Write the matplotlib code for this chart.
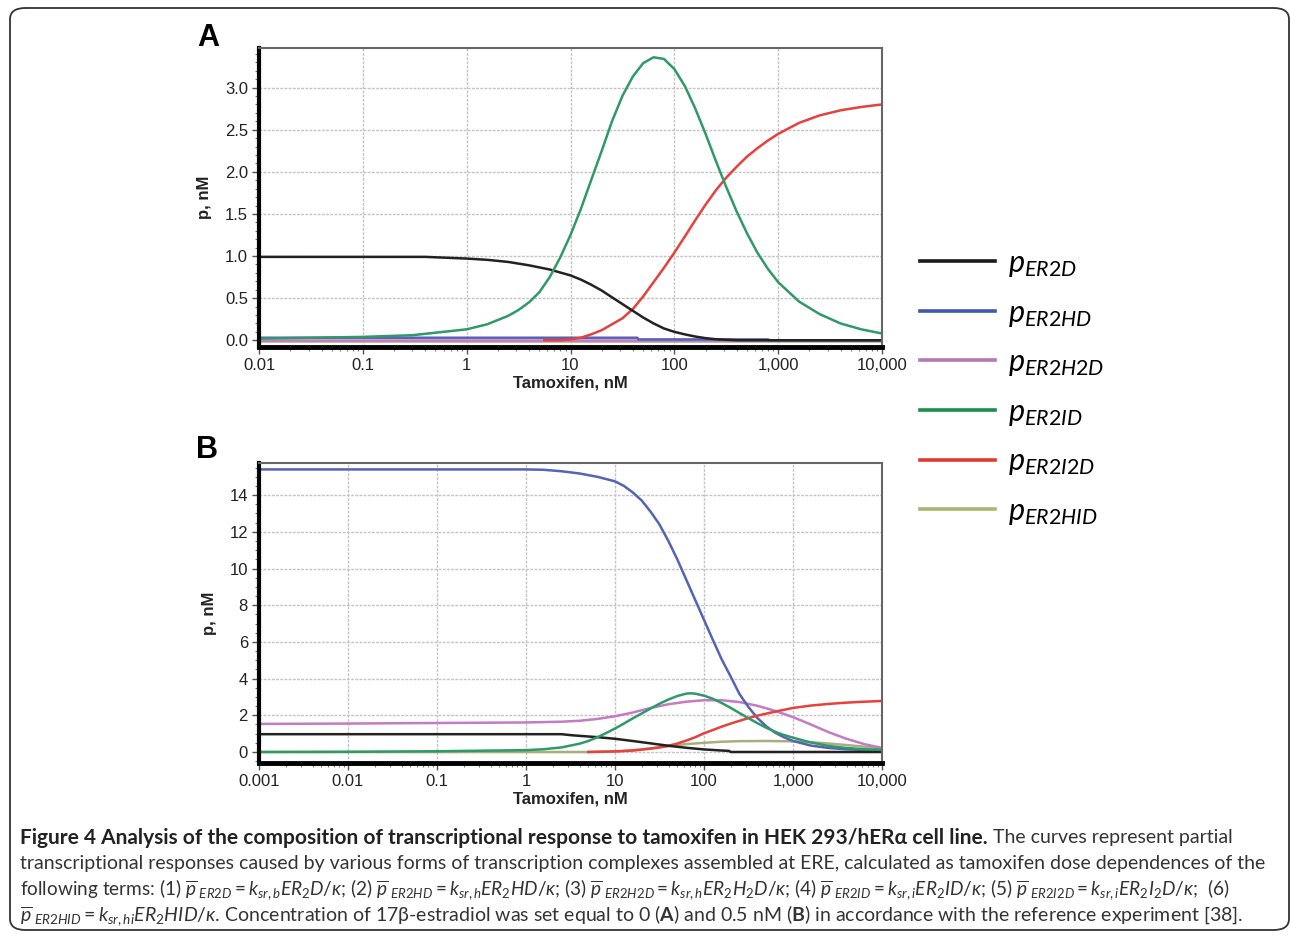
import numpy as np
import matplotlib.pyplot as plt
from matplotlib.lines import Line2D
from matplotlib.patches import FancyBboxPatch
from matplotlib.ticker import FixedLocator, LogLocator, MultipleLocator, NullFormatter

plt.rcParams['mathtext.fontset'] = 'custom'
plt.rcParams['mathtext.rm'] = 'Lato'
plt.rcParams['mathtext.it'] = 'Lato:italic'
plt.rcParams['mathtext.bf'] = 'Lato:bold'
plt.rcParams['mathtext.sf'] = 'Lato'

narrow = ['Liberation Sans Narrow', 'Liberation Sans', 'DejaVu Sans']
capfont = ['Lato', 'DejaVu Sans']

# ---- panel A: estradiol 0 nM (tamoxifen nM, p nM) ----
a_er2d_x = [0.01, 0.4, 1, 1.58, 2.51, 3.98, 6.31, 10, 12.6, 15.8, 20, 25.1, 31.6,
            39.8, 50.1, 63.1, 79.4, 100, 126, 158, 200, 251, 398, 10000]
a_er2d_y = [0.99, 0.99, 0.97, 0.955, 0.93, 0.89, 0.84, 0.77, 0.72, 0.66, 0.59, 0.51,
            0.43, 0.35, 0.27, 0.20, 0.14, 0.10, 0.07, 0.045, 0.025, 0.012, 0.0, 0.0]
a_er2hd_x = [0.01, 44, 45, 800, 810, 10000]
a_er2hd_y = [0.03, 0.03, 0.01, 0.01, 0.0, 0.0]
a_er2h2d_x = [0.01, 10000]
a_er2h2d_y = [0.0, 0.0]
a_er2id_x = [0.01, 0.1, 0.3, 1, 1.58, 2.51, 3.16, 3.98, 5.01, 6.31, 7.94, 10, 12.6,
             15.8, 20, 25.1, 31.6, 39.8, 50.1, 63.1, 79.4, 100, 126, 158, 200, 251,
             316, 398, 501, 631, 794, 1000, 1585, 2512, 3981, 6310, 10000]
a_er2id_y = [0.02, 0.04, 0.06, 0.13, 0.19, 0.29, 0.36, 0.45, 0.57, 0.75, 0.98, 1.25,
             1.56, 1.90, 2.25, 2.60, 2.90, 3.13, 3.29, 3.36, 3.34, 3.22, 3.02, 2.76,
             2.45, 2.13, 1.82, 1.53, 1.27, 1.04, 0.85, 0.69, 0.46, 0.31, 0.20, 0.13,
             0.08]
a_er2i2d_x = [5.6, 7.94, 10, 12.6, 15.8, 20, 25.1, 31.6, 39.8, 50.1, 63.1, 79.4, 100,
              126, 158, 200, 251, 316, 398, 501, 631, 794, 1000, 1585, 2512, 3981,
              6310, 10000]
a_er2i2d_y = [0.0, 0.0, 0.01, 0.03, 0.07, 0.12, 0.19, 0.26, 0.37, 0.52, 0.69, 0.86,
              1.04, 1.23, 1.42, 1.61, 1.78, 1.93, 2.06, 2.18, 2.28, 2.37, 2.45, 2.58,
              2.67, 2.73, 2.77, 2.80]
a_er2hid_x = [0.01, 10000]
a_er2hid_y = [-0.01, -0.01]

# ---- panel B: estradiol 0.5 nM ----
b_er2d_x = [0.001, 2.51, 3.16, 3.98, 6.31, 10, 15.8, 25.1, 39.8, 63.1, 100, 158, 191,
            200, 10000]
b_er2d_y = [0.97, 0.97, 0.92, 0.88, 0.81, 0.72, 0.60, 0.47, 0.34, 0.23, 0.14, 0.08,
            0.06, 0.0, 0.0]
b_er2hd_x = [0.001, 1, 1.58, 2.51, 3.98, 6.31, 10, 12.6, 15.8, 20, 25.1, 31.6, 39.8,
             50.1, 63.1, 79.4, 100, 126, 158, 200, 251, 316, 398, 501, 631, 794, 1000,
             1585, 2512, 3981, 6310, 10000]
b_er2hd_y = [15.4, 15.4, 15.38, 15.3, 15.18, 15.0, 14.75, 14.5, 14.15, 13.7, 13.1,
             12.4, 11.5, 10.5, 9.4, 8.3, 7.2, 6.1, 5.05, 4.1, 3.15, 2.45, 1.85, 1.4,
             1.05, 0.80, 0.60, 0.35, 0.22, 0.15, 0.11, 0.09]
b_er2h2d_x = [0.001, 0.01, 0.1, 1, 2.51, 3.98, 6.31, 10, 15.8, 25.1, 39.8, 63.1, 100,
              158, 251, 398, 631, 1000, 1585, 2512, 3981, 6310, 10000]
b_er2h2d_y = [1.53, 1.55, 1.58, 1.61, 1.65, 1.70, 1.80, 1.95, 2.15, 2.40, 2.60, 2.74,
              2.82, 2.82, 2.72, 2.52, 2.24, 1.90, 1.50, 1.08, 0.72, 0.43, 0.22]
b_er2id_x = [0.001, 0.01, 0.1, 1, 1.58, 2.51, 3.98, 5.01, 6.31, 7.94, 10, 12.6, 15.8,
             20, 25.1, 31.6, 39.8, 50.1, 63.1, 70.8, 79.4, 100, 126, 158, 200, 251,
             316, 398, 501, 631, 794, 1000, 1585, 2512, 3981, 6310, 10000]
b_er2id_y = [0.0, 0.01, 0.04, 0.10, 0.15, 0.25, 0.45, 0.60, 0.80, 1.03, 1.28, 1.55,
             1.83, 2.10, 2.37, 2.63, 2.86, 3.05, 3.18, 3.20, 3.18, 3.07, 2.90, 2.67,
             2.40, 2.12, 1.84, 1.57, 1.32, 1.10, 0.92, 0.78, 0.52, 0.33, 0.22, 0.15,
             0.12]
b_er2i2d_x = [5.01, 10, 15.8, 25.1, 31.6, 39.8, 50.1, 63.1, 79.4, 100, 126, 158, 200,
              251, 316, 398, 631, 1000, 1585, 2512, 3981, 6310, 10000]
b_er2i2d_y = [0.0, 0.03, 0.08, 0.18, 0.25, 0.34, 0.46, 0.62, 0.80, 1.02, 1.20, 1.38,
              1.55, 1.70, 1.85, 1.98, 2.20, 2.40, 2.53, 2.62, 2.69, 2.74, 2.78]
b_er2hid_x = [0.001, 5.01, 10, 15.8, 25.1, 39.8, 63.1, 100, 158, 251, 501, 1000, 1995,
              3981, 10000]
b_er2hid_y = [0.0, 0.0, 0.03, 0.09, 0.20, 0.32, 0.43, 0.50, 0.56, 0.59, 0.60, 0.58,
              0.50, 0.38, 0.20]

series_names = ['ER2D', 'ER2HD', 'ER2H2D', 'ER2ID', 'ER2I2D', 'ER2HID']
colors = ['#222222', '#5563b5', '#c47ac4', '#2f9a68', '#e8403c', '#aaae7c']
legend_colors = ['#1a1a1a', '#4058b0', '#b478b4', '#1e8c4c', '#e03a30', '#a8b870']

xticks_a = [0.01, 0.1, 1, 10, 100, 1000, 10000]
xlabels_a = ['0.01', '0.1', '1', '10', '100', '1,000', '10,000']
yticks_a = [0.0, 0.5, 1.0, 1.5, 2.0, 2.5, 3.0]
ylabels_a = ['0.0', '0.5', '1.0', '1.5', '2.0', '2.5', '3.0']
xticks_b = [0.001, 0.01, 0.1, 1, 10, 100, 1000, 10000]
xlabels_b = ['0.001', '0.01', '0.1', '1', '10', '100', '1,000', '10,000']
yticks_b = [0, 2, 4, 6, 8, 10, 12, 14]
ylabels_b = ['0', '2', '4', '6', '8', '10', '12', '14']

W, H = 1290, 936
fig = plt.figure(figsize=(W / 100, H / 100), dpi=100)

axA = fig.add_axes([259 / W, 1 - 347 / H, 623 / W, 299 / H])
axB = fig.add_axes([259 / W, 1 - 763 / H, 623 / W, 300 / H])


def style_axis(ax, xt, xl, yt, yl, xlim, ylim, yminor):
    ax.set_xscale('log')
    ax.set_xlim(*xlim)
    ax.set_ylim(*ylim)
    ax.xaxis.set_major_locator(FixedLocator(xt))
    ax.set_xticklabels(xl, family=narrow, fontsize=12, color='#222222')
    ax.xaxis.set_minor_locator(LogLocator(base=10, subs=np.arange(2, 10)))
    ax.xaxis.set_minor_formatter(NullFormatter())
    ax.set_yticks(yt)
    ax.set_yticklabels(yl, family=narrow, fontsize=12, color='#222222')
    ax.yaxis.set_minor_locator(MultipleLocator(yminor))
    ax.tick_params(which='major', direction='out', length=5, width=1, color='#555555', pad=3)
    ax.tick_params(which='minor', direction='out', length=3, width=0.8, color='#777777')
    ax.grid(True, which='major', color='#c4c4c4', linestyle=(0, (2, 1)), linewidth=1)
    ax.set_axisbelow(True)
    for side in ['top', 'right']:
        ax.spines[side].set_color('#666666')
        ax.spines[side].set_linewidth(1.5)
    ax.spines['left'].set_color('black')
    ax.spines['left'].set_linewidth(3)
    ax.spines['bottom'].set_color('black')
    ax.spines['bottom'].set_linewidth(3.5)
    ax.set_xlabel('Tamoxifen, nM', family=narrow, fontsize=12, fontweight='bold',
                  color='#222222', labelpad=2)
    ax.set_ylabel('p, nM', family=narrow, fontsize=12, fontweight='bold',
                  color='#222222', labelpad=9)


curves_a = [(a_er2d_x, a_er2d_y), (a_er2hd_x, a_er2hd_y), (a_er2h2d_x, a_er2h2d_y),
            (a_er2id_x, a_er2id_y), (a_er2i2d_x, a_er2i2d_y), (a_er2hid_x, a_er2hid_y)]
curves_b = [(b_er2d_x, b_er2d_y), (b_er2hd_x, b_er2hd_y), (b_er2h2d_x, b_er2h2d_y),
            (b_er2id_x, b_er2id_y), (b_er2i2d_x, b_er2i2d_y), (b_er2hid_x, b_er2hid_y)]
order = [5, 2, 1, 4, 0, 3]
for i in order:
    axA.plot(*curves_a[i], color=colors[i], lw=1.8)
    axB.plot(*curves_b[i], color=colors[i], lw=1.8)

style_axis(axA, xticks_a, xlabels_a, yticks_a, ylabels_a, (0.01, 10000), (-0.08, 3.47), 0.1)
style_axis(axB, xticks_b, xlabels_b, yticks_b, ylabels_b, (0.001, 10000), (-0.6, 15.75), 0.5)

fig.text(208 / W, 1 - 38 / H, 'A', family=narrow, fontsize=22, fontweight='bold',
         ha='center', va='center')
fig.text(207 / W, 1 - 450 / H, 'B', family=narrow, fontsize=22, fontweight='bold',
         ha='center', va='center')

handles = [Line2D([0], [0], color=c, lw=2.6) for c in legend_colors]
labels = [r'$p_{%s}$' % n for n in series_names]
fig.legend(handles, labels, loc='upper left', bbox_to_anchor=(920 / W, 1 - 249 / H),
           frameon=False, fontsize=22, handlelength=2.45, handletextpad=0.42,
           labelspacing=0.64, borderaxespad=0, borderpad=0)

frame = FancyBboxPatch((10 / W, 6 / H), 1279 / W, 922 / H, transform=fig.transFigure,
                       boxstyle='round,pad=0,rounding_size=0.012', fill=False,
                       edgecolor='#333333', linewidth=1.3)
fig.patches.append(frame)

cap_col = '#333333'
cap_size = 14
t1 = fig.text(20 / W, 1 - 838 / H,
              'Figure 4 Analysis of the composition of transcriptional response to '
              'tamoxifen in HEK 293/hERα cell line.',
              family=capfont, fontsize=15, fontweight='bold', color='#222222',
              ha='left', va='center')
fig.canvas.draw()
bb = t1.get_window_extent(fig.canvas.get_renderer())
fig.text((bb.x1 + 5) / W, 1 - 838 / H, 'The curves represent partial',
         family=capfont, fontsize=cap_size, color=cap_col, ha='left', va='center')
fig.text(20 / W, 1 - 864 / H,
         'transcriptional responses caused by various forms of transcription complexes '
         'assembled at ERE, calculated as tamoxifen dose dependences of the',
         family=capfont, fontsize=cap_size, color=cap_col, ha='left', va='center')
fig.text(20 / W, 1 - 890 / H,
         r'following terms: (1) $\overline{p}_{\ ER2D} = k_{sr,b}ER_2D/\kappa$; '
         r'(2) $\overline{p}_{\ ER2HD} = k_{sr,h}ER_2HD/\kappa$; '
         r'(3) $\overline{p}_{\ ER2H2D} = k_{sr,h}ER_2H_2D/\kappa$; '
         r'(4) $\overline{p}_{\ ER2ID} = k_{sr,i}ER_2ID/\kappa$; '
         r'(5) $\overline{p}_{\ ER2I2D} = k_{sr,i}ER_2I_2D/\kappa$;  (6)',
         family=capfont, fontsize=13.7, color=cap_col, ha='left', va='center')
fig.text(20 / W, 1 - 916 / H,
         r'$\overline{p}_{\ ER2HID} = k_{sr,hi}ER_2HID/\kappa$. Concentration of '
         r'17β-estradiol was set equal to 0 ($\mathbf{A}$) and 0.5 nM ($\mathbf{B}$) '
         r'in accordance with the reference experiment [38].',
         family=capfont, fontsize=cap_size, color=cap_col, ha='left', va='center')

plt.savefig('out.png', dpi=100)
plt.close()
